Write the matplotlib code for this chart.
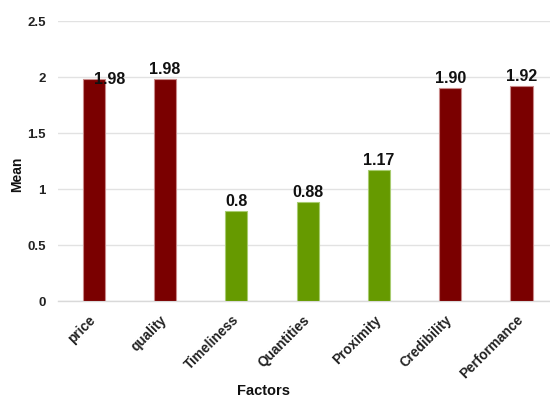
import matplotlib
matplotlib.use("Agg")
import matplotlib.pyplot as plt

factors = ["price", "quality", "Timeliness", "Quantities", "Proximity", "Credibility", "Performance"]
means = [1.98, 1.98, 0.8, 0.88, 1.17, 1.90, 1.92]
value_labels = ["1.98", "1.98", "0.8", "0.88", "1.17", "1.90", "1.92"]
colors = ["#7a0000", "#7a0000", "#669a00", "#669a00", "#669a00", "#7a0000", "#7a0000"]
edge_colors = ["#c98a8a", "#c98a8a", "#a8cc70", "#a8cc70", "#a8cc70", "#c98a8a", "#c98a8a"]
yticks = [0, 0.5, 1, 1.5, 2, 2.5]
ytick_labels = ["0", "0.5", "1", "1.5", "2", "2.5"]

plt.rcParams["font.family"] = ["Liberation Sans", "DejaVu Sans"]

W, H = 550, 398
fig = plt.figure(figsize=(W / 100, H / 100), dpi=100)
ax = fig.add_axes([58 / W, 1 - 301 / H, 492 / W, 280 / H])

x = list(range(len(factors)))
ax.bar(x, means, width=0.31, color=colors, edgecolor=edge_colors, linewidth=0.8, zorder=3)

for i, (v, lab) in enumerate(zip(means, value_labels)):
    if i == 0:
        ax.text(i + 0.23, v, lab, ha="center", va="center", fontsize=11.5,
                fontweight="bold", color="#111111", zorder=4)
    else:
        ax.annotate(lab, (i, v), xytext=(0, 1.5), textcoords="offset points",
                    ha="center", va="bottom", fontsize=11.5, fontweight="bold",
                    color="#111111", zorder=4)

ax.set_xlim(-0.5, 6.4)
ax.set_ylim(0, 2.5)
ax.set_yticks(yticks)
ax.set_yticklabels(ytick_labels, fontsize=9.5, fontweight="bold", color="#222222")
ax.set_xticks(x)
ax.set_xticklabels([])
# slanted category names, ending just below each bar centre
for i, name in enumerate(factors):
    ax.annotate(name, (i, 0), xycoords=("data", "axes fraction"),
                xytext=(0, -12), textcoords="offset points",
                rotation=45, rotation_mode="anchor", ha="right", va="center",
                fontsize=9.8, fontweight="bold", color="#222222")
ax.tick_params(axis="both", length=0)
ax.tick_params(axis="y", pad=9)

ax.grid(axis="y", color="#e2e2e2", linewidth=1.0, zorder=0)
ax.set_axisbelow(True)
for side in ["left", "right", "top"]:
    ax.spines[side].set_visible(False)
ax.spines["bottom"].set_color("#d9d9d9")
ax.spines["bottom"].set_linewidth(1.0)

fig.text(17.5 / W, 1 - 174 / H, "Mean", rotation=90, ha="center", va="center",
         fontsize=10, fontweight="bold", color="#111111")
fig.text(264 / W, 1 - 391 / H, "Factors", ha="center", va="center",
         fontsize=10.5, fontweight="bold", color="#111111")

fig.savefig("out.png", dpi=100)
